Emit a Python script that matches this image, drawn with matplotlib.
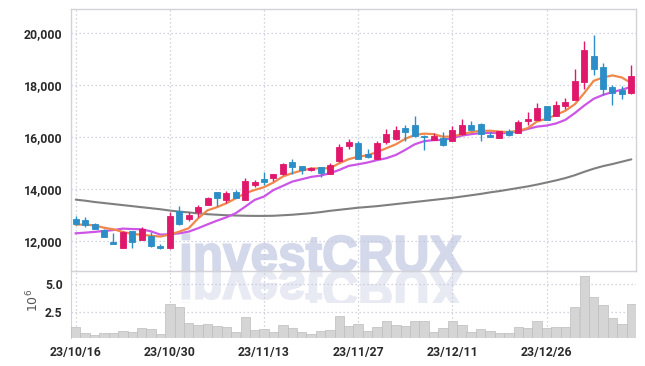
import matplotlib
matplotlib.use("Agg")
import matplotlib.pyplot as plt
import numpy as np
from matplotlib.textpath import TextPath
from matplotlib.patches import PathPatch, Rectangle
from matplotlib.font_manager import FontProperties
from matplotlib.transforms import Affine2D, IdentityTransform

# ---------------- data ----------------
tick_idx = [0, 10, 20, 30, 40, 50]
tick_labels = ["23/10/16", "23/10/30", "23/11/13", "23/11/27", "23/12/11", "23/12/26"]

opens = [12850, 12820, 12650, 12440, 11960, 11740, 12380, 12030, 12200, 11820,
         11720, 13150, 12860, 13130, 13400, 13880, 13580, 13890, 13580, 14140,
         14390, 14440, 14590, 15020, 14890, 14720, 14850, 14570, 15060, 15650,
         15760, 15340, 15150, 15790, 15940, 16350, 16470, 16050, 15900, 15980,
         15860, 16110, 16460, 16510, 16080, 15980, 16240, 16170, 16600, 16670,
         17190, 16800, 17210, 17440, 18110, 19130, 18700, 17930, 17800, 17680]
highs = [12960, 12910, 12710, 12470, 12300, 12370, 12400, 12540, 12350, 11870,
         13100, 13360, 13100, 13390, 13700, 13890, 13930, 13960, 14440, 14350,
         14660, 14590, 15010, 15150, 14900, 14860, 14860, 15000, 15720, 15920,
         15830, 15530, 15830, 16290, 16430, 16470, 16800, 16060, 16170, 16190,
         16440, 16700, 16620, 16520, 16200, 16250, 16310, 16640, 16960, 17300,
         17200, 17390, 17500, 18610, 19700, 19930, 18850, 18010, 17980, 18780]
lows = [12620, 12550, 12450, 12140, 11900, 11720, 11720, 12020, 11760, 11690,
        11710, 12620, 12770, 12930, 13390, 13350, 13480, 13640, 13570, 14070,
        14160, 14320, 14540, 14570, 14570, 14680, 14480, 14560, 15050, 15530,
        15140, 15210, 15140, 15750, 15880, 15830, 16010, 15500, 15890, 15650,
        15850, 16060, 16270, 15860, 15990, 15970, 16050, 16160, 16470, 16660,
        16670, 16790, 17060, 17430, 17860, 18400, 17600, 17240, 17470, 17670]
closes = [12670, 12600, 12480, 12170, 11900, 12350, 11970, 12470, 11810, 11720,
          12960, 12670, 13000, 13310, 13660, 13670, 13860, 13640, 14310, 14270,
          14260, 14580, 14980, 14860, 14740, 14800, 14610, 14940, 15620, 15800,
          15150, 15240, 15760, 16110, 16260, 16210, 16020, 15990, 16050, 15710,
          16270, 16470, 16280, 16110, 16000, 16240, 16080, 16580, 16700, 17120,
          16670, 17240, 17350, 18160, 19360, 18610, 17840, 17680, 17660, 18360]
volume_m = [1.16, 0.64, 0.52, 0.64, 0.64, 0.88, 0.79, 1.07, 0.98, 0.55,
            3.20, 2.99, 1.55, 1.40, 1.46, 1.28, 1.19, 0.79, 2.07, 0.91,
            1.01, 0.73, 1.37, 1.10, 0.73, 0.55, 0.82, 0.91, 2.20, 1.28,
            1.46, 0.88, 1.16, 1.74, 1.37, 1.25, 1.74, 1.74, 0.73, 1.07,
            1.74, 1.37, 0.73, 1.01, 0.88, 0.64, 0.64, 1.16, 1.07, 1.74,
            1.07, 1.16, 1.16, 2.99, 5.67, 3.81, 3.11, 1.98, 1.46, 3.20]
ma_short = [12630, 12630, 12600, 12510, 12450, 12350, 12270, 12240, 12200, 12170,
            12250, 12360, 12490, 12870, 13180, 13300, 13450, 13640, 13840, 13960,
            14070, 14250, 14480, 14610, 14710, 14790, 14790, 14800, 14990, 15150,
            15240, 15300, 15420, 15570, 15720, 15930, 16080, 16130, 16110, 16010,
            16020, 16110, 16190, 16240, 16240, 16210, 16190, 16240, 16340, 16600,
            16700, 16850, 17010, 17260, 17690, 18160, 18290, 18370, 18290, 18070]
ma_mid = [12295, 12320, 12350, 12385, 12420, 12475, 12460, 12450, 12370, 12245,
          12260, 12295, 12360, 12490, 12640, 12780, 12910, 13070, 13320, 13580,
          13710, 13960, 14120, 14285, 14375, 14465, 14515, 14605, 14735, 14890,
          14950, 15020, 15110, 15185, 15310, 15505, 15720, 15840, 15880, 15890,
          15955, 16055, 16110, 16150, 16160, 16150, 16160, 16210, 16310, 16400,
          16440, 16520, 16660, 16920, 17210, 17470, 17620, 17730, 17820, 17930]
ma_long = [13590, 13550, 13500, 13460, 13420, 13380, 13340, 13300, 13260, 13220,
           13170, 13130, 13100, 13060, 13030, 13010, 12990, 12980, 12970, 12965,
           12965, 12970, 12990, 13010, 13040, 13070, 13110, 13160, 13200, 13240,
           13280, 13310, 13340, 13380, 13420, 13460, 13500, 13540, 13580, 13620,
           13660, 13710, 13760, 13810, 13870, 13920, 13980, 14040, 14100, 14170,
           14250, 14330, 14420, 14530, 14660, 14780, 14880, 14960, 15050, 15140]
price_ticks = [12000, 14000, 16000, 18000, 20000]
vol_ticks = [2.5, 5.0]

# ---------------- style ----------------
UP = "#e0186c"
DOWN = "#2c8ec6"
GRID = "#c4c7d8"
SPINE = "#d2d2d8"
TXT = "#2a2a2a"
FONT = "Roboto"

W, H = 645, 366
fig = plt.figure(figsize=(W / 100, H / 100), dpi=100)
fig.patch.set_facecolor("white")

ax = fig.add_axes([71 / W, (H - 271) / H, 565 / W, 262 / H])
axv = fig.add_axes([71 / W, (H - 338) / H, 565 / W, 67 / H], sharex=ax)
for a in (ax, axv):
    a.set_facecolor("none")
    a.set_zorder(1)

n = len(opens)
x = np.arange(n)
o = np.array(opens); c = np.array(closes); hi = np.array(highs); lo = np.array(lows)
cols = [UP if cc >= oo else DOWN for oo, cc in zip(o, c)]

# moving averages
ax.plot(x, ma_long, color="#7f7f7f", lw=1.5, zorder=3, solid_capstyle="round")
ax.plot(x, ma_mid, color="#cc55e6", lw=1.6, zorder=3)
ax.plot(x, ma_short, color="#f0884c", lw=1.6, zorder=3)

# candles
ax.vlines(x, lo, hi, colors=cols, lw=1.0, zorder=4)
body_lo = np.minimum(o, c)
body_h = np.maximum(np.abs(c - o), 25)
ax.bar(x, body_h, bottom=body_lo, width=0.64, color=cols, edgecolor=cols, lw=0.6, zorder=5)

ax.set_xlim(-0.5, n - 0.5)
ax.set_ylim(10845, 20925)
ax.set_yticks(price_ticks)
ax.set_yticklabels([f"{v:,}" for v in price_ticks])
ax.grid(True, color=GRID, ls=(0, (1, 2.2)), lw=0.9)
ax.tick_params(axis="both", length=0, labelsize=8.8, colors=TXT, pad=6)
ax.tick_params(axis="x", labelbottom=False)
for lab in ax.get_yticklabels():
    lab.set_fontfamily(FONT)
    lab.set_fontweight("bold")
for s in ax.spines.values():
    s.set_color(SPINE)
    s.set_linewidth(1.0)

# volume
axv.bar(x, volume_m, width=1.0, color="#d5d5d5", edgecolor="#bdbdbd", lw=0.5, zorder=3)
axv.set_ylim(0.22, 6.15)
axv.set_yticks(vol_ticks)
axv.set_yticklabels([f"{v:.1f}" for v in vol_ticks])
axv.set_xticks(tick_idx)
axv.set_xticklabels(tick_labels)
axv.grid(True, color=GRID, ls=(0, (1, 2.2)), lw=0.9)
axv.tick_params(axis="both", length=0, labelsize=8.8, colors=TXT, pad=6)
for lab in axv.get_yticklabels() + axv.get_xticklabels():
    lab.set_fontfamily(FONT)
    lab.set_fontweight("bold")
for k, s in axv.spines.items():
    s.set_color(SPINE)
    s.set_visible(k in ("left", "top"))

fig.text(33 / W, 1 - 300 / H, r"$10^6$", rotation=90, ha="center", va="center",
         fontsize=9, color="#555555")

# watermark with reflection (figure pixel coordinates)
tp = TextPath((0, 0), "investCRUX", size=100,
              prop=FontProperties(family="Liberation Sans", weight="bold"))
bb = tp.get_extents()
x0, x1 = 182.5, 462.0
base = H - 271.5
cap = 37.0
sx = (x1 - x0) / bb.width
sy = cap / 72.0
tr_main = Affine2D().translate(-bb.x0, 0).scale(sx, sy).translate(x0, base)
tr_refl = Affine2D().translate(-bb.x0, 0).scale(sx, -sy).translate(x0, base)
wm = PathPatch(tr_main.transform_path(tp), facecolor="#d3d8ea", edgecolor="#d3d8ea",
               lw=1.3, transform=IdentityTransform(), zorder=0)
fig.add_artist(wm)
wr = PathPatch(tr_refl.transform_path(tp), facecolor="#e7e9f3", edgecolor="#e7e9f3",
               lw=1.3, transform=IdentityTransform(), zorder=0)
clip = Rectangle((0, H - 303), W, 31, transform=IdentityTransform())
wr.set_clip_path(clip)
fig.add_artist(wr)

fig.savefig("out.png", dpi=100, facecolor="white")
